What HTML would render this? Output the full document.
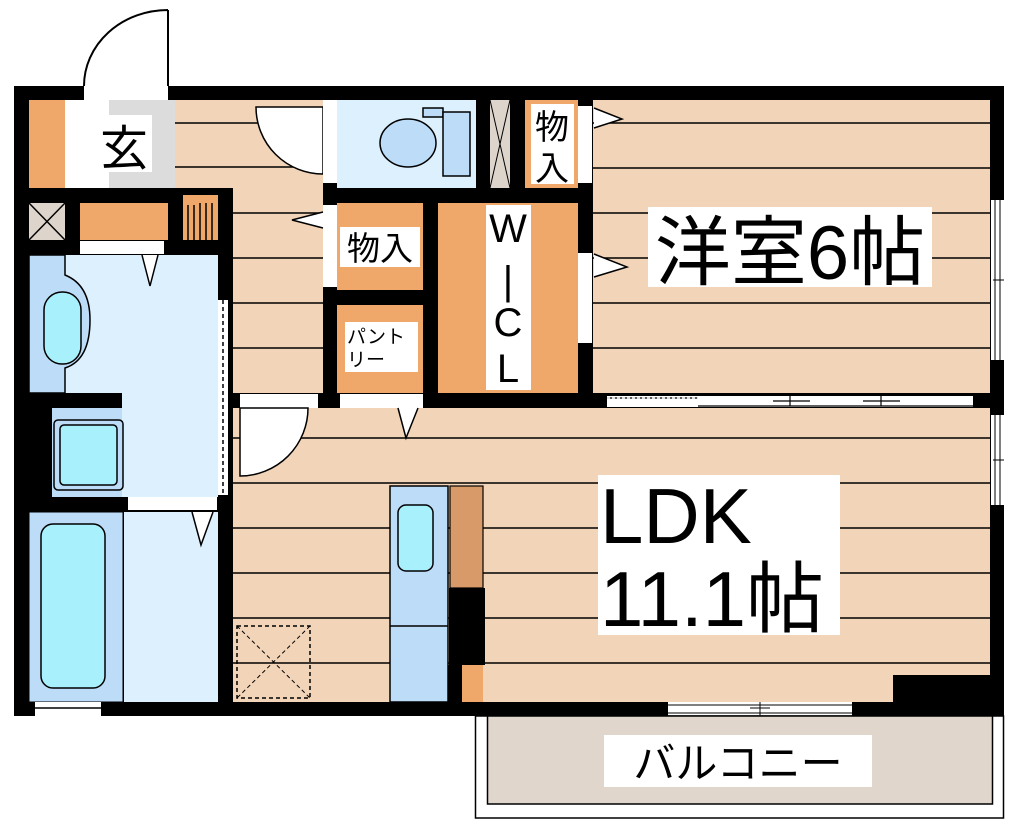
<!DOCTYPE html>
<html><head><meta charset="utf-8"><style>
html,body{margin:0;padding:0;background:#fff}
svg{display:block}
text{font-family:"Liberation Sans","Noto Sans CJK JP",sans-serif;fill:#000}
</style></head><body>
<svg width="1020" height="826" viewBox="0 0 1020 826" xmlns="http://www.w3.org/2000/svg">
<rect x="14" y="86" width="990" height="630" fill="#000"/>
<rect x="84" y="86" width="84" height="14" fill="#fff"/>
<path d="M168 10 V86 M84 86 A84 76 0 0 1 168 10" stroke="#000" stroke-width="2" fill="none"/>
<rect x="29" y="100" width="36" height="88" fill="#f0a86a"/>
<rect x="65" y="100" width="14" height="88" fill="#fff"/>
<rect x="79" y="100" width="96" height="88" fill="#dcdcdc"/>
<rect x="79" y="100" width="30" height="88" fill="#fff"/>
<rect x="97" y="115" width="55" height="57" fill="#fff"/>
<text x="124" y="165" font-size="48" text-anchor="middle">玄</text>
<rect x="29" y="203" width="36" height="37" fill="#ddd5cc"/>
<path d="M29 203 L65 240 M65 203 L29 240" stroke="#000" stroke-width="1.5"/>
<rect x="80" y="203" width="88" height="37" fill="#f0a86a"/>
<rect x="183" y="195" width="35" height="45" fill="#f0a86a"/>
<path d="M188 205V240M194 205V240M200 203V240M206 203V240M212 203V240" stroke="#000" stroke-width="1.5"/>
<rect x="80" y="241" width="84" height="13" fill="#fff"/>
<rect x="175" y="100" width="148" height="88" fill="#f2d4b8"/>
<rect x="233" y="188" width="90" height="205" fill="#f2d4b8"/>
<g stroke="#000" stroke-width="1.5">
<path d="M175 123H323M175 167H323M233 213H323M233 258H323M233 303H323M233 348H323"/>
</g>
<path d="M323 107 H256 A67 67 0 0 0 323 174 Z" fill="#fff" stroke="#000" stroke-width="1.5"/>
<rect x="323" y="100" width="14" height="83" fill="#fff"/>
<rect x="323" y="205" width="14" height="82" fill="#fff"/>
<path d="M323 212 L292 220 L323 228" fill="#fff" stroke="#000" stroke-width="1.5"/>
<rect x="29" y="255" width="189" height="138" fill="#ddf0fd"/>
<rect x="122" y="393" width="96" height="104" fill="#ddf0fd"/>
<path d="M29 255 H65 V275 Q90 285 90 320 Q90 360 65 368 V393 H29 Z" fill="#bcdcf8" stroke="#000" stroke-width="1.5"/>
<rect x="44" y="292" width="37" height="72" rx="18" fill="#a8f0fc" stroke="#000" stroke-width="1.5"/>
<path d="M142 255 L150 286 L158 255" fill="#fff" stroke="#000" stroke-width="1.5"/>
<rect x="52" y="408" width="70" height="89" fill="#bcdcf8"/>
<rect x="54" y="420" width="69" height="70" rx="4" fill="#bcdcf8" stroke="#000" stroke-width="1.5"/>
<rect x="60" y="425" width="57" height="60" rx="4" fill="#a8f0fc" stroke="#000" stroke-width="1.5"/>
<rect x="218" y="300" width="10" height="195" fill="#fff"/>
<path d="M223 300 V495" stroke="#000" stroke-width="1.5" stroke-dasharray="4 3"/>
<rect x="128" y="497" width="89" height="13" fill="#fff"/>
<rect x="29" y="512" width="94" height="190" fill="#bcdcf8" stroke="#000" stroke-width="1"/>
<rect x="41" y="524" width="64" height="164" rx="12" fill="#a8f0fc" stroke="#000" stroke-width="1.5"/>
<rect x="124" y="512" width="94" height="190" fill="#ddf0fd"/>
<path d="M192 512 L201 545 L213 512" fill="#fff" stroke="#000" stroke-width="1.5"/>
<rect x="35" y="702" width="66" height="14" fill="#fff"/>
<path d="M35 708H101" stroke="#000" stroke-width="1.5"/>
<rect x="337" y="100" width="139" height="88" fill="#ddf0fd"/>
<ellipse cx="408" cy="143" rx="28" ry="24" fill="#bcdcf8" stroke="#000" stroke-width="1.5"/>
<rect x="423" y="108" width="20" height="9" fill="#bcdcf8" stroke="#000" stroke-width="1.5"/>
<rect x="443" y="112" width="27" height="64" fill="#bcdcf8" stroke="#000" stroke-width="1.5"/>
<rect x="490" y="100" width="20" height="88" fill="#ddd5cc"/>
<path d="M490 100 L510 188 M510 100 L490 188" stroke="#000" stroke-width="1"/>
<rect x="525" y="100" width="53" height="88" fill="#f0a86a"/>
<rect x="531" y="104" width="43" height="80" fill="#fff"/>
<text x="552" y="139" font-size="34" text-anchor="middle">物</text>
<text x="552" y="180" font-size="34" text-anchor="middle">入</text>
<rect x="337" y="203" width="86" height="87" fill="#f0a86a"/>
<rect x="340" y="227" width="80" height="40" fill="#fff"/>
<text x="380" y="260" font-size="33" text-anchor="middle">物入</text>
<rect x="337" y="305" width="86" height="88" fill="#f0a86a"/>
<rect x="345" y="322" width="73" height="50" fill="#fff"/>
<text x="347" y="343" font-size="19">パント</text>
<text x="347" y="366" font-size="19">リー</text>
<rect x="438" y="203" width="140" height="190" fill="#f0a86a"/>
<rect x="486" y="205" width="45" height="185" fill="#fff"/>
<text x="508" y="242" font-size="40" text-anchor="middle">W</text>
<text x="508" y="294" font-size="40" text-anchor="middle">|</text>
<text x="508" y="336" font-size="40" text-anchor="middle">C</text>
<text x="508" y="382" font-size="40" text-anchor="middle">L</text>
<rect x="340" y="394" width="83" height="14" fill="#fff"/>
<rect x="593" y="100" width="397" height="293" fill="#f2d4b8"/>
<path d="M593 123H990M593 168H990M593 213H990M593 258H990M593 303H990M593 348H990" stroke="#000" stroke-width="1.5"/>
<rect x="578" y="106" width="14" height="77" fill="#fff"/>
<rect x="578" y="253" width="14" height="90" fill="#fff"/>
<path d="M594 108 L622 119 L594 128" fill="#fff" stroke="#000" stroke-width="1.5"/>
<path d="M594 254 L627 267 L594 277" fill="#fff" stroke="#000" stroke-width="1.5"/>
<rect x="648" y="207" width="284" height="80" fill="#fff"/>
<text x="790" y="279" font-size="76" text-anchor="middle">洋室6帖</text>
<rect x="991" y="200" width="13" height="160" fill="#fff"/>
<path d="M995 200V360M1000 200V360M993 280H1004" stroke="#000" stroke-width="1"/>
<rect x="607" y="396" width="366" height="11" fill="#fff"/>
<path d="M607 398H698M698 406H973M773 401H810M790 396V406M863 401H900M881 396V406" stroke="#000" stroke-width="1.2"/>
<path d="M607 398H698" stroke="#fff" stroke-width="1" stroke-dasharray="3 2"/>
<rect x="233" y="408" width="757" height="294" fill="#f2d4b8"/>
<path d="M233 438H990M233 483H990M233 528H990M233 573H990M233 618H990M233 663H990" stroke="#000" stroke-width="1.5"/>
<rect x="240" y="394" width="78" height="14" fill="#fff"/>
<path d="M240 408 H308 A68 68 0 0 1 240 476 Z" fill="#fff" stroke="#000" stroke-width="1.5"/>
<path d="M398 408 L406 438 L418 408" fill="#fff" stroke="#000" stroke-width="1.5"/>
<rect x="237" y="626" width="73" height="72" fill="none" stroke="#000" stroke-width="1.5" stroke-dasharray="4 3"/>
<path d="M237 626L310 698M310 626L237 698" stroke="#000" stroke-width="1" stroke-dasharray="4 3"/>
<rect x="390" y="486" width="58" height="216" fill="#bcdcf8" stroke="#000" stroke-width="1.5"/>
<path d="M390 626H448" stroke="#000" stroke-width="1.5"/>
<rect x="398" y="505" width="35" height="66" rx="8" fill="#a8f0fc" stroke="#000" stroke-width="1.5"/>
<rect x="450" y="486" width="33" height="102" fill="#d99a6a" stroke="#000" stroke-width="1.2"/>
<rect x="449" y="588" width="36" height="77" fill="#000"/>
<rect x="462" y="665" width="21" height="37" fill="#f0a86a"/>
<rect x="448" y="665" width="14" height="37" fill="#000"/>
<rect x="598" y="475" width="242" height="160" fill="#fff"/>
<text x="600" y="543" font-size="78">LDK</text>
<text x="600" y="626" font-size="78">11.1帖</text>
<rect x="893" y="675" width="111" height="41" fill="#000"/>
<rect x="991" y="415" width="13" height="90" fill="#fff"/>
<path d="M995 415V505M1000 415V505M993 460H1004" stroke="#000" stroke-width="1"/>
<rect x="668" y="702" width="184" height="14" fill="#fff"/>
<path d="M668 705H852M668 713H852M750 708H770M760 702V716" stroke="#000" stroke-width="1"/>
<rect x="475.5" y="716" width="528" height="102" fill="#fff" stroke="#000" stroke-width="1.5"/>
<rect x="487.5" y="716" width="505" height="88" fill="#e0d6cc" stroke="#000" stroke-width="1.5"/>
<rect x="604" y="735" width="268" height="52" fill="#fff"/>
<text x="738" y="778" font-size="42" text-anchor="middle">バルコニー</text>
</svg>
</body></html>
